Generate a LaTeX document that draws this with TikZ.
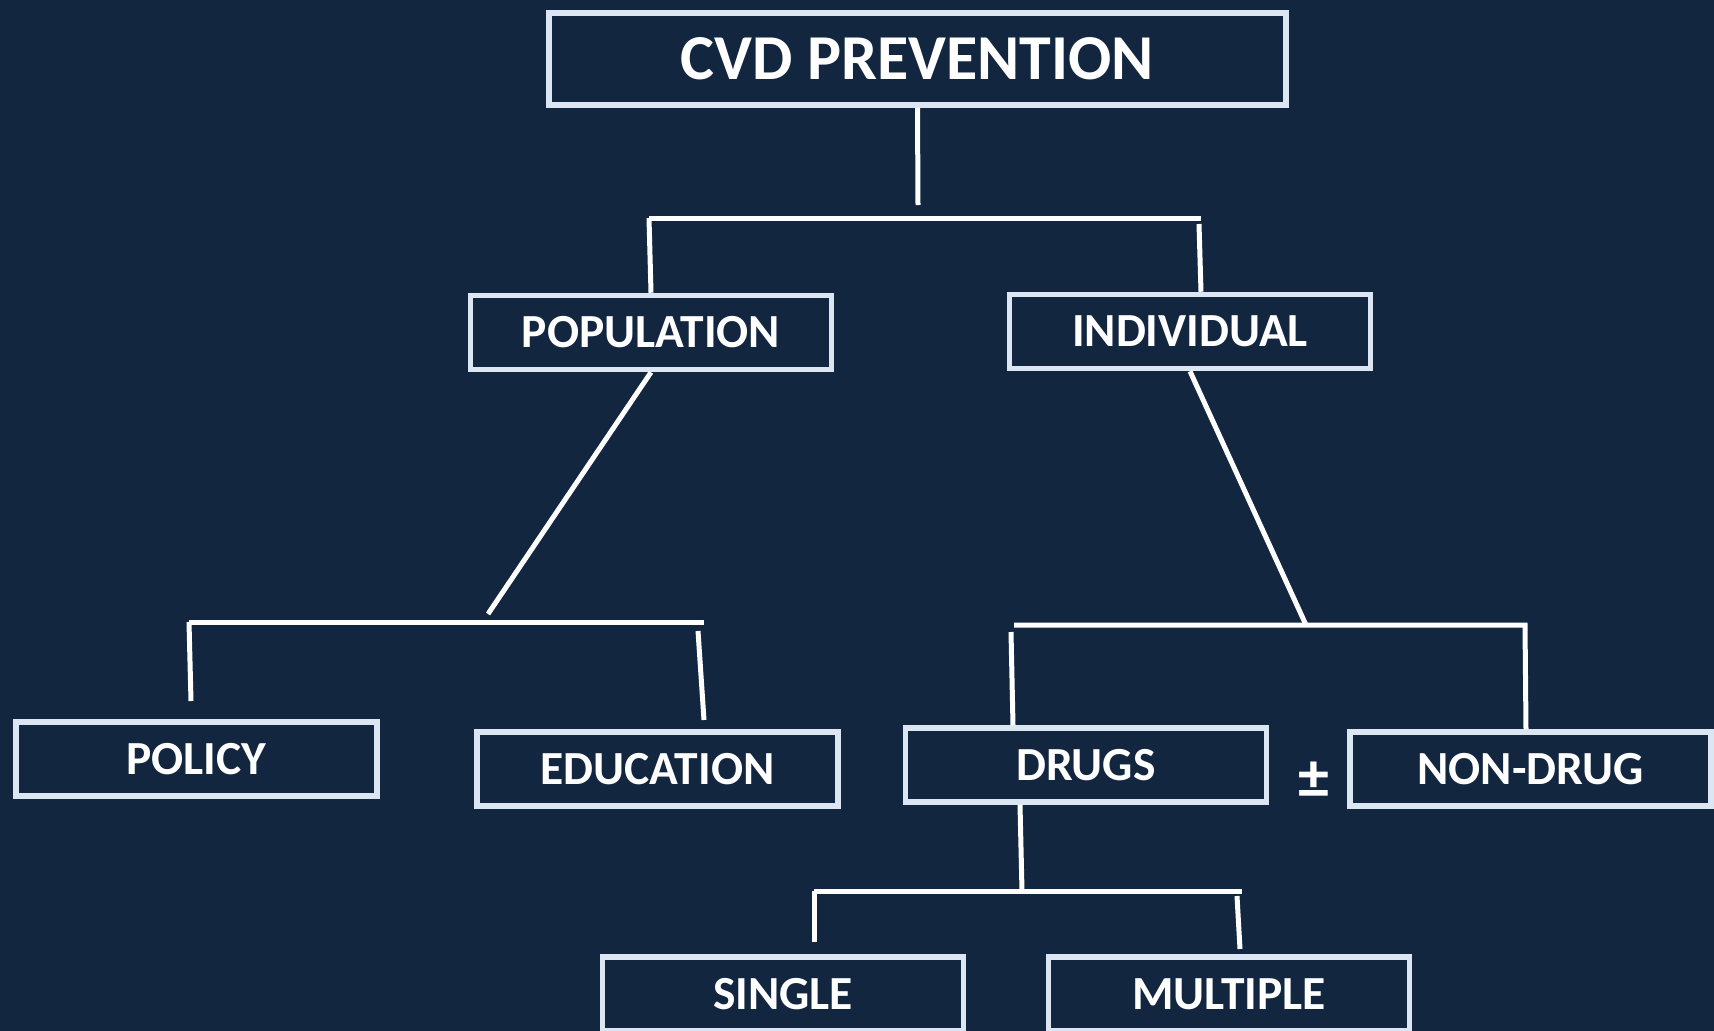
\documentclass[tikz,border=0pt]{standalone}
\usepackage{fontspec}
\setmainfont{Carlito}
\definecolor{bg}{RGB}{18,38,64}
\definecolor{edge}{RGB}{220,230,242}
\tikzset{
  box/.style={draw=edge, line width=5.5pt, fill=bg, text=white, inner sep=0pt,
    minimum width=361pt, minimum height=74pt, font=\fontsize{47.5}{52}\selectfont\bfseries},
  conn/.style={draw=white, line width=5pt},
}
\begin{document}
\begin{tikzpicture}[x=1pt,y=-1pt]
\fill[bg] (0,0) rectangle (1714,1031);
\useasboundingbox (0,0) rectangle (1714,1031);
\clip (0,0) rectangle (1714,1031);
\node[box, minimum width=737pt, minimum height=92pt, font=\fontsize{64}{68}\selectfont\bfseries] (cvd) at (917.5,59) {CVD PREVENTION};
\node[box] (pop) at (651,332.5) {POPULATION};
\node[box] (ind) at (1190,331.5) {INDIVIDUAL};
\node[box] (policy) at (196.5,759) {POLICY};
\node[box] (edu) at (657.5,769) {EDUCATION};
\node[box] (drugs) at (1086,765) {DRUGS};
\node[box] (nondrug) at (1530.5,769) {NON-DRUG};
\node[box] (single) at (783,994) {SINGLE};
\node[box] (multiple) at (1229,994) {MULTIPLE};
\node[text=white, inner sep=0pt, font=\fontsize{62}{66}\selectfont\bfseries] (pm) at (1314,780) {±};
% coordinates
\coordinate (c1) at (918,205);
\coordinate (b1l) at (649,218);
\coordinate (b1r) at (1201,218);
\coordinate (b1rd) at (1199,224);
\coordinate (p1) at (488,614);
\coordinate (b2l) at (189,622);
\coordinate (b2r) at (704,622);
\coordinate (pol1) at (191,701);
\coordinate (edu0) at (698,631);
\coordinate (edu1) at (704,720);
\coordinate (i1) at (1306,625);
\coordinate (b3l) at (1014,625);
\coordinate (b3r) at (1525,625);
\coordinate (dr0) at (1011,632);
\coordinate (d1) at (1022,891);
\coordinate (b4l) at (814,891);
\coordinate (b4r) at (1242,891);
\coordinate (s1) at (814,942);
\coordinate (m0) at (1237,896);
\coordinate (m1) at (1240,949);
% connectors
\draw[conn] (cvd.south) -- (c1);
\draw[conn] (b1l) -- (b1r);
\draw[conn] (b1l) -- (pop.north);
\draw[conn] (b1rd) -- ([xshift=11pt]ind.north);
\draw[conn] (pop.south) -- (p1);
\draw[conn] (b2l) -- (b2r);
\draw[conn] (b2l) -- (pol1);
\draw[conn] (edu0) -- (edu1);
\draw[conn] (ind.south) -- (i1);
\draw[conn] (b3l) -- (b3r) -- ([xshift=-4.5pt]nondrug.north);
\draw[conn] (dr0) -- ([xshift=-73pt]drugs.north);
\draw[conn] ([xshift=-66pt]drugs.south) -- (d1);
\draw[conn] (b4l) -- (b4r);
\draw[conn] (b4l) -- (s1);
\draw[conn] (m0) -- (m1);
\end{tikzpicture}
\end{document}
